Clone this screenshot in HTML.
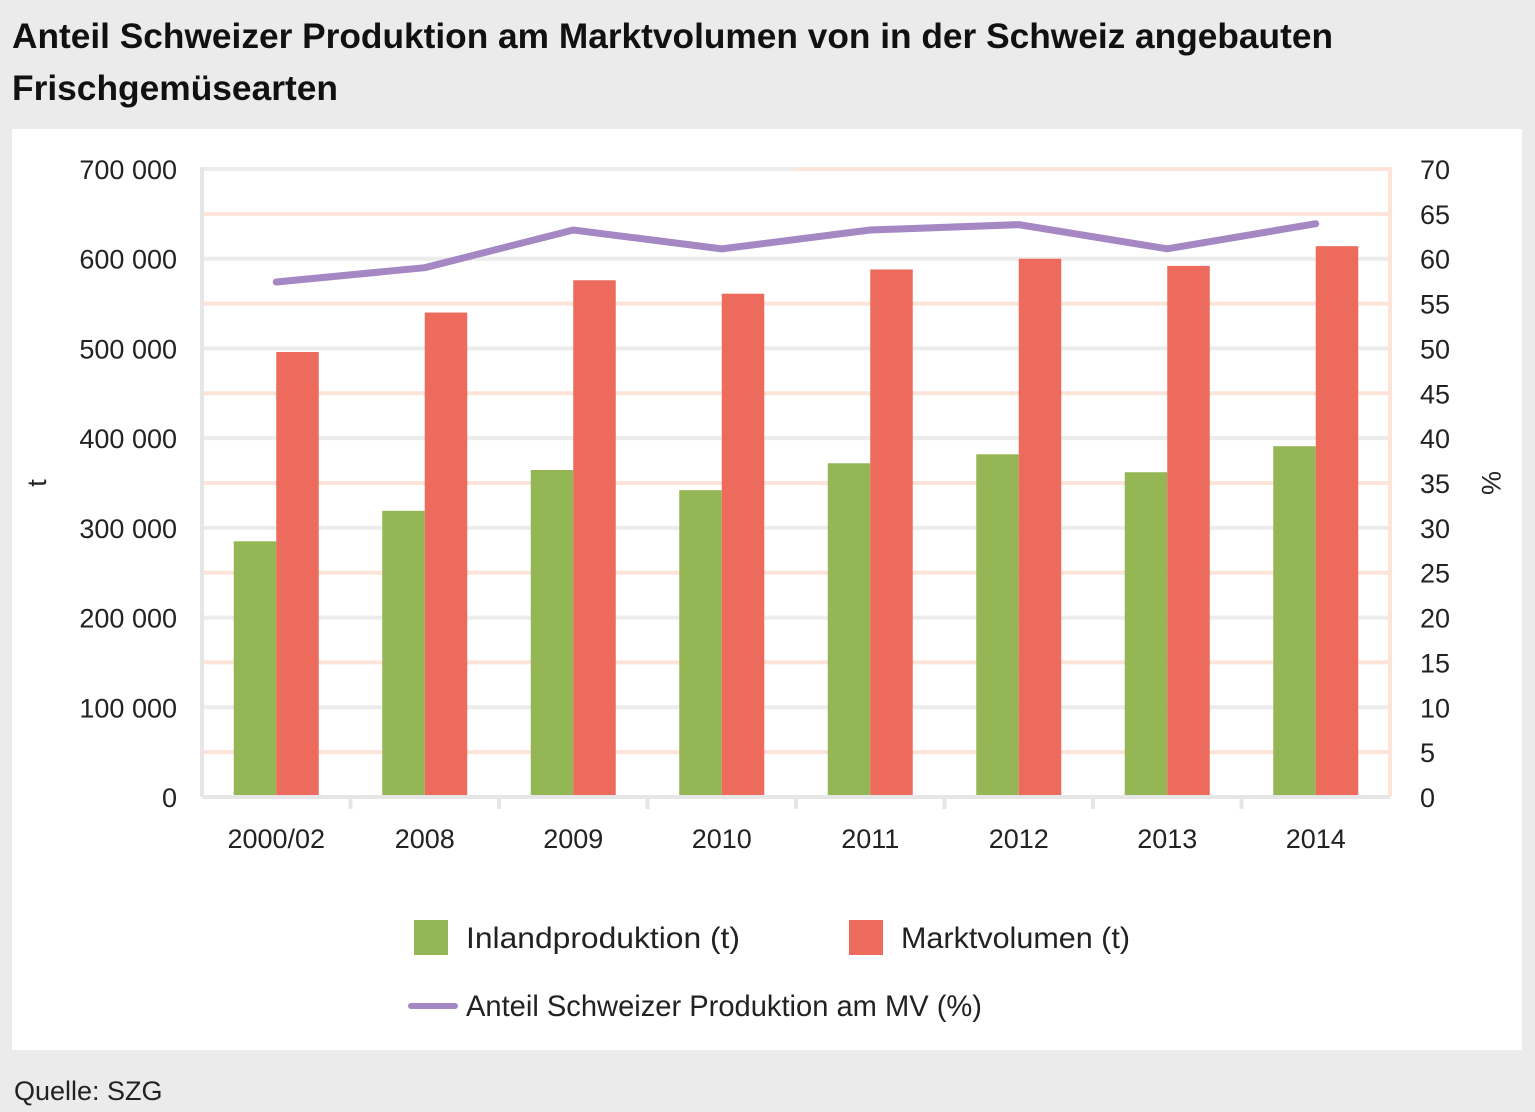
<!DOCTYPE html>
<html><head><meta charset="utf-8"><style>
html,body{margin:0;padding:0;background:#ebebeb;}
svg{display:block;font-family:"Liberation Sans Narrow","Liberation Sans",sans-serif;}
</style></head><body>
<svg id="chart" width="1535" height="1112" viewBox="0 0 1535 1112" xmlns="http://www.w3.org/2000/svg">
<rect x="0" y="0" width="1535" height="1112" fill="#ebebeb"/>
<text x="12" y="48" font-size="35" font-weight="bold" fill="#111" textLength="1321" lengthAdjust="spacingAndGlyphs">Anteil Schweizer Produktion am Marktvolumen von in der Schweiz angebauten</text>
<text x="12" y="100" font-size="35" font-weight="bold" fill="#111" textLength="326" lengthAdjust="spacingAndGlyphs">Frischgemüsearten</text>
<rect x="12" y="129" width="1510" height="921" fill="#fff"/>
<g id="grid"></g>
<g id="bars"></g>
<g id="line"></g>
<g id="axes"></g>
<text transform="translate(46,483) rotate(-90)" font-size="27" text-anchor="middle" fill="#222">t</text>
<text transform="translate(1482,483) rotate(90)" font-size="27" text-anchor="middle" fill="#222">%</text>
<rect x="414" y="920" width="34" height="35" fill="#94b655"/>
<text x="466" y="948" font-size="30" fill="#222" textLength="274" lengthAdjust="spacingAndGlyphs">Inlandproduktion (t)</text>
<rect x="849" y="920" width="34" height="35" fill="#ec6b5c"/>
<text x="901" y="948" font-size="30" fill="#222" textLength="229" lengthAdjust="spacingAndGlyphs">Marktvolumen (t)</text>
<line x1="411" y1="1006" x2="455" y2="1006" stroke="#a587c3" stroke-width="6" stroke-linecap="round"/>
<text x="466" y="1016" font-size="30" fill="#222" textLength="516" lengthAdjust="spacingAndGlyphs">Anteil Schweizer Produktion am MV (%)</text>
<text x="14" y="1100" font-size="27" fill="#222">Quelle: SZG</text>
</svg>
<script>
const categories=["2000/02","2008","2009","2010","2011","2012","2013","2014"];
const inland=[285000,319000,364500,342000,372000,382000,362000,391000];
const markt=[496000,540000,576000,561000,588000,600000,592000,614000];
const anteil=[57.4,59.0,63.2,61.1,63.2,63.8,61.1,63.9];
const leftTicks=["0","100 000","200 000","300 000","400 000","500 000","600 000","700 000"];
const rightTicks=["0","5","10","15","20","25","30","35","40","45","50","55","60","65","70"];
const NS="http://www.w3.org/2000/svg";
const X0=202,X1=1390,Y0=797,Y1=169;
const band=(X1-X0)/categories.length;
const yL=v=>Y0-(v/700000)*(Y0-Y1);
const yR=v=>Y0-(v/70)*(Y0-Y1);
const xc=i=>X0+band*(i+0.5);
function mk(tag,attrs,parent){const e=document.createElementNS(NS,tag);for(const k in attrs)e.setAttribute(k,attrs[k]);document.getElementById(parent).appendChild(e);return e;}
rightTicks.forEach((t,i)=>{const y=yR(+t);
 if(i%2===1){const e=mk('line',{x1:X0,x2:X1,y1:y,y2:y,stroke:'#fde3d8','stroke-width':4},'grid');
 
 }});
leftTicks.forEach((t,i)=>{const y=yL(i*100000);
 if(i>0){const e=mk('line',{x1:X0,x2:X1,y1:y,y2:y,stroke:'#ececec','stroke-width':4},'grid');
 
 }
 const tx=mk('text',{x:177,y:y+10,'font-size':27,'text-anchor':'end',fill:'#222'},'axes');tx.textContent=t;
 
 });
const tp=mk('line',{x1:795,x2:X1,y1:Y1,y2:Y1,stroke:'#fde3d8','stroke-width':4},'grid');


rightTicks.forEach(t=>{const y=yR(+t);
 const tx=mk('text',{x:1420,y:y+10,'font-size':27,fill:'#222'},'axes');tx.textContent=t;
 
 });
const bw=42.5;
categories.forEach((c,i)=>{
 const g=mk('rect',{x:xc(i)-bw,y:yL(inland[i]),width:bw,height:Y0-yL(inland[i]),fill:'#94b655'},'bars');
 
 
 const r=mk('rect',{x:xc(i),y:yL(markt[i]),width:bw,height:Y0-yL(markt[i]),fill:'#ec6b5c'},'bars');
 
 
 const tx=mk('text',{x:xc(i),y:848,'font-size':27,'text-anchor':'middle',fill:'#222'},'axes');tx.textContent=c;
 
 
});
const la=mk('line',{x1:X0,x2:X0,y1:Y1-2,y2:Y0,stroke:'#e6e6e6','stroke-width':4},'axes');


const ra=mk('line',{x1:X1,x2:X1,y1:Y1-2,y2:Y0,stroke:'#fde3d8','stroke-width':4},'axes');


const xa=mk('line',{x1:X0,x2:X1,y1:Y0,y2:Y0,stroke:'#e6e6e6','stroke-width':4},'axes');


for(let i=1;i<categories.length;i++){const x=X0+band*i;
 const t=mk('line',{x1:x,x2:x,y1:Y0,y2:Y0+12,stroke:'#e6e6e6','stroke-width':4},'axes');
 
 }
const pl=mk('polyline',{points:anteil.map((v,i)=>xc(i)+','+yR(v)).join(' '),fill:'none',stroke:'#a587c3','stroke-width':7,'stroke-linecap':'round','stroke-linejoin':'round'},'line');


</script>
</body></html>
